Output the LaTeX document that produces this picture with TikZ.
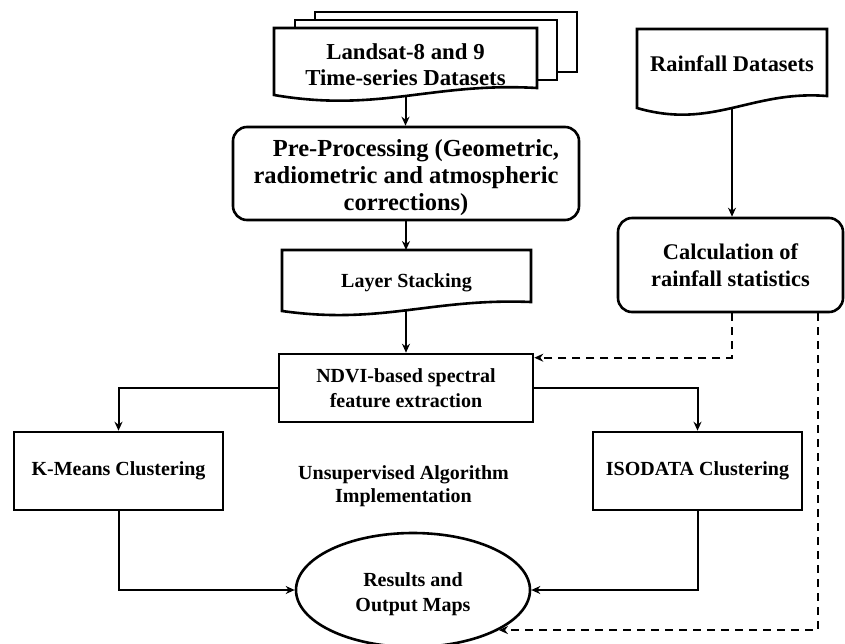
\documentclass[tikz,border=0pt]{standalone}
\usepackage{fontspec}
\setmainfont{Liberation Serif}
\usetikzlibrary{arrows.meta,shapes.geometric}
\begin{document}
\begin{tikzpicture}[x=1pt,y=-1pt,
  box/.style={draw,line width=2.6pt,inner sep=0pt,align=center},
  shapeline/.style={line width=2.6pt,line join=miter},
  conn/.style={line width=2pt,-{Stealth[length=9pt,width=8pt]}},
  dconn/.style={conn,dash pattern=on 8pt off 6pt},
  fa/.style={font=\fontsize{20}{25}\selectfont\bfseries},
  fb/.style={font=\fontsize{22.4}{27}\selectfont\bfseries},
  fc/.style={font=\fontsize{24.5}{26.7}\selectfont\bfseries},
  txt/.style={align=center,inner sep=0pt}
]
\useasboundingbox (0,0) rectangle (845,643);

% Landsat stacked documents
\draw[shapeline,fill=white] (315,12) rectangle (577,72);
\draw[shapeline,fill=white] (295,20) rectangle (557,80);
\draw[shapeline,fill=white] (274,28) -- (537,28) -- (537,88)
  .. controls (431.8,82) and (379.2,113) .. (274,95) -- cycle;
\node[txt,font=\fontsize{22.8}{25.5}\selectfont\bfseries] (landsat) at (405.5,64.5)
  {Landsat-8 and 9\\Time-series Datasets};
\coordinate (landsatb) at (405.5,96);

% Rainfall document
\draw[shapeline,fill=white] (637,29) -- (827,29) -- (827,96)
  .. controls (751,90) and (713,130) .. (637,108) -- cycle;
\node[txt,fb] (rain) at (732,64) {Rainfall Datasets};
\coordinate (rainb) at (732,108);

% Pre-processing
\node[box,rounded corners=14pt,minimum width=346pt,minimum height=93pt,fc] (pre) at (406,173.5)
  {\rule{0pt}{25.5pt}\hspace*{20pt}Pre-Processing (Geometric,\\radiometric and atmospheric\\corrections)};

% Layer stacking document
\draw[shapeline,fill=white] (282,250) -- (531,250) -- (531,302)
  .. controls (431.4,298) and (381.6,325) .. (282,311) -- cycle;
\node[txt,fa] (layer) at (406.5,283) {Layer Stacking};
\coordinate (layert) at (406,250);
\coordinate (layerb) at (406,310);

% Calculation of rainfall statistics
\node[box,rounded corners=14pt,minimum width=225pt,minimum height=94pt,fb] (calc) at (730.5,265)
  {Calculation of\\rainfall statistics};

% NDVI
\node[box,minimum width=254pt,minimum height=68pt,fa] (ndvi) at (406,388)
  {NDVI-based spectral\\feature extraction};

% Clustering boxes
\node[box,minimum width=209pt,minimum height=78pt,fa] (km) at (118.5,471) {K-Means Clustering};
\node[box,minimum width=209pt,minimum height=78pt,fa] (iso) at (697.5,471) {ISODATA Clustering};

\node[txt,font=\fontsize{20}{23}\selectfont\bfseries] (unsup) at (403.5,486)
  {Unsupervised Algorithm\\Implementation};

% Results ellipse
\node[draw,ellipse,line width=2.6pt,minimum width=234pt,minimum height=114pt,inner sep=0pt,align=center,fa] (res) at (413,590)
  {\rule{0pt}{22pt}Results and\\Output Maps};

% Connectors
\draw[conn] (landsatb) -- (landsatb |- pre.north);
\draw[conn] (pre.south) -- (layert);
\draw[conn] (layerb) -- (layerb |- ndvi.north);
\draw[conn] (rainb) -- (rainb |- calc.north);
\draw[conn] (ndvi.west) -| (km.north);
\draw[conn] (ndvi.east) -| (iso.north);
\draw[conn] (km.south) |- (res.west);
\draw[conn] (iso.south) |- (res.east);
\draw[dconn] ([xshift=1.5pt]calc.south) |- ([yshift=-5pt]ndvi.north east);
\draw[dconn] ([xshift=87.5pt]calc.south) |- (res.-25.6);
\end{tikzpicture}
\end{document}
